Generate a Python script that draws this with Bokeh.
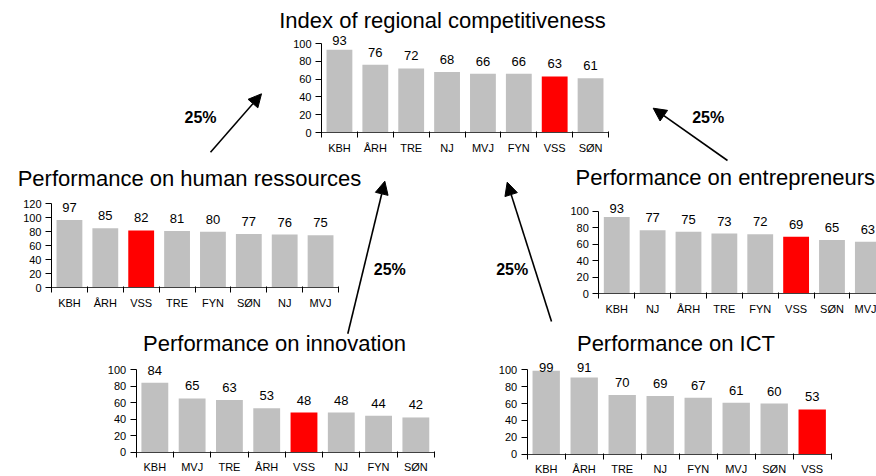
import numpy as np
from bokeh.plotting import figure
from bokeh.models import Range1d, LinearAxis, FixedTicker, Arrow, NormalHead, ColumnDataSource
from bokeh.core.properties import value
from bokeh.embed import file_html
from bokeh.resources import INLINE

# ---------------- data ----------------
index_cats = ["KBH", "ÅRH", "TRE", "NJ", "MVJ", "FYN", "VSS", "SØN"]
index_vals = [93, 76, 72, 68, 66, 66, 63, 61]

hr_cats = ["KBH", "ÅRH", "VSS", "TRE", "FYN", "SØN", "NJ", "MVJ"]
hr_vals = [97, 85, 82, 81, 80, 77, 76, 75]

ent_cats = ["KBH", "NJ", "ÅRH", "TRE", "FYN", "VSS", "SØN", "MVJ"]
ent_vals = [93, 77, 75, 73, 72, 69, 65, 63]

inn_cats = ["KBH", "MVJ", "TRE", "ÅRH", "VSS", "NJ", "FYN", "SØN"]
inn_vals = [84, 65, 63, 53, 48, 48, 44, 42]

ict_cats = ["KBH", "ÅRH", "TRE", "NJ", "FYN", "MVJ", "SØN", "VSS"]
ict_vals = [99, 91, 70, 69, 67, 61, 60, 53]

titles = ["Index of regional competitiveness", "Performance on human ressources",
          "Performance on entrepreneurs", "Performance on innovation", "Performance on ICT"]
y_max = [100, 120, 100, 100, 100]
weights = ["25%", "25%", "25%", "25%"]
highlight = "VSS"

# ---------------- layout (reference-pixel positions) ----------------
W, H = 876, 476
FONT = "Liberation Sans"

# x_left, x_right, y_zero, y_top of each plot area
boxes = [(321, 608, 132, 43), (51, 338, 287.3, 203.3), (598.3, 885.3, 293.3, 210.7),
         (135.7, 434, 451.7, 369), (526.7, 830.7, 453.7, 369.3)]
# title anchor: (x, y, align)
title_pos = [(442, 19.7, "center"), (189, 177.5, "center"), (575, 176.7, "left"),
             (274, 343, "center"), (675.5, 343, "center")]
weight_pos = [(200, 116.7), (707.7, 116.7), (389.3, 269), (511.7, 269)]
arrows = [((210, 151.7), (261, 93.3)), ((727, 160), (652.7, 107.7)),
          ((347.3, 333.3), (384.3, 180.7)), ((551, 321), (506.7, 181.7))]

p = figure(width=W, height=H, x_range=Range1d(0, W), y_range=Range1d(H, 0),
           output_backend="svg", toolbar_location=None,
           x_axis_location=None, y_axis_location=None, min_border=0)
p.grid.visible = False
p.outline_line_color = None
p.background_fill_color = "white"

series = [(index_cats, index_vals), (hr_cats, hr_vals), (ent_cats, ent_vals),
          (inn_cats, inn_vals), (ict_cats, ict_vals)]

for k, ((cats, vals), ymax, box) in enumerate(zip(series, y_max, boxes)):
    name = f"c{k}"
    xl, xr, y0, yt = box
    n = len(cats)
    sx = (xr - xl) / n
    p.extra_x_ranges[name] = Range1d(-0.5 - xl / sx, -0.5 + (W - xl) / sx)
    sy = (y0 - yt) / ymax
    p.extra_y_ranges[name] = Range1d(-(H - y0) / sy, y0 / sy)

    xs = list(range(n))
    src = ColumnDataSource(dict(
        x=xs, top=vals,
        color=["#FF0000" if c == highlight else "#C0C0C0" for c in cats],
        ly=[min(v + 12.5 / sy, ymax + 3) for v in vals],
        lbl=[str(v) for v in vals]))
    p.vbar(x="x", top="top", width=0.72, fill_color="color", line_color=None,
           source=src, x_range_name=name, y_range_name=name)
    p.text(x="x", y="ly", text="lbl", source=src, x_range_name=name, y_range_name=name,
           text_font=value(FONT), text_font_size="13px", text_align="center",
           text_baseline="middle", text_color="black")

    yax = LinearAxis(x_range_name=name, y_range_name=name, fixed_location=-0.5,
                     bounds=(0, ymax), ticker=FixedTicker(ticks=list(range(0, ymax + 1, 20))),
                     major_tick_out=6, major_tick_in=0, minor_tick_out=0, minor_tick_in=0,
                     major_label_text_font=FONT, major_label_text_font_size="11px",
                     major_label_standoff=4, axis_line_color="black",
                     major_tick_line_color="black", major_label_text_color="black")
    p.add_layout(yax, "left")

    xax = LinearAxis(x_range_name=name, y_range_name=name, fixed_location=0,
                     bounds=(-0.5, n - 0.5),
                     ticker=FixedTicker(ticks=xs, minor_ticks=[i - 0.5 for i in range(n + 1)]),
                     major_tick_out=0, major_tick_in=0, minor_tick_out=5, minor_tick_in=1,
                     minor_tick_line_color="black",
                     major_label_overrides={i: c for i, c in enumerate(cats)},
                     major_label_text_font=FONT, major_label_text_font_size="11px",
                     major_label_standoff=4, axis_line_color="#404040",
                     major_label_text_color="black")
    p.add_layout(xax, "below")

for t, (tx, ty, al) in zip(titles, title_pos):
    p.text(x=[tx], y=[ty], text=[t], text_font=value(FONT), text_font_size="22px",
           text_align=al, text_baseline="middle", text_color="black")

for w, (wx, wy) in zip(weights, weight_pos):
    p.text(x=[wx], y=[wy], text=[w], text_font=value(FONT), text_font_size="16px",
           text_font_style="bold", text_align="center", text_baseline="middle",
           text_color="black")

for (x0, y0), (x1, y1) in arrows:
    p.add_layout(Arrow(x_start=x0, y_start=y0, x_end=x1, y_end=y1,
                       line_width=1.6, line_color="black",
                       end=NormalHead(size=13, fill_color="black", line_color="black")))

open("out.html", "w").write(file_html(p, INLINE))
